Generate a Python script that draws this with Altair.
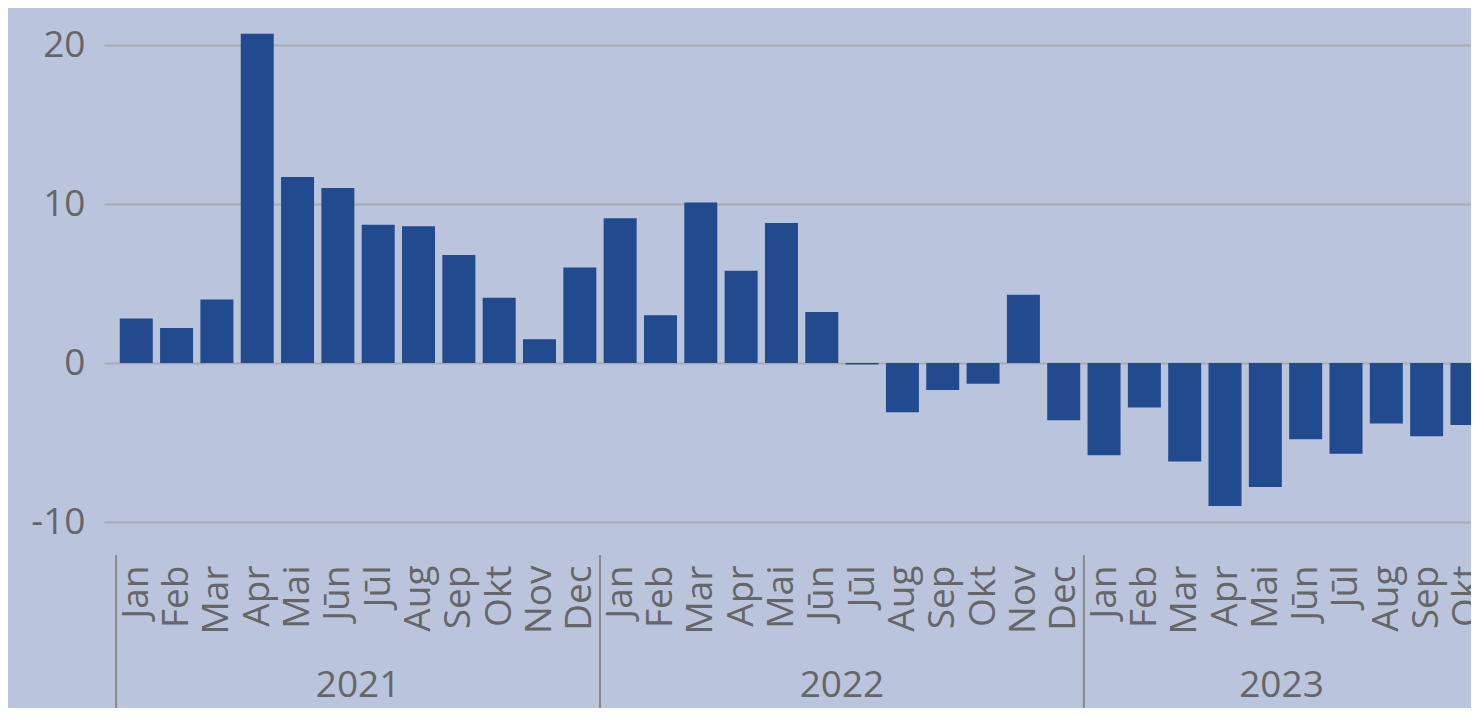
import altair as alt
import pandas as pd

years = ["2021", "2022", "2023"]
months = ["Jan", "Feb", "Mar", "Apr", "Mai", "Jūn", "Jūl", "Aug", "Sep", "Okt", "Nov", "Dec"]
values_2021 = [2.8, 2.2, 4.0, 20.7, 11.7, 11.0, 8.7, 8.6, 6.8, 4.1, 1.5, 6.0]
values_2022 = [9.1, 3.0, 10.1, 5.8, 8.8, 3.2, -0.1, -3.1, -1.7, -1.3, 4.3, -3.6]
values_2023 = [-5.8, -2.8, -6.2, -9.0, -7.8, -4.8, -5.7, -3.8, -4.6, -3.9]
y_ticks = [-10, 0, 10, 20]

BG = "#BAC5DD"
BAR = "#214A8F"
TXT = "#666666"
FONT = "Open Sans"
FS = 37

series = [values_2021, values_2022, values_2023]
rows = []
idx = 0
for y, vals in zip(years, series):
    for m, v in zip(months, vals):
        rows.append({"slot": idx + 0.5, "month": m, "year": y, "value": v})
        idx += 1
df = pd.DataFrame(rows)

x_lo, x_hi = -0.3, 33.6
visible_end = 33.8
yr_rows = []
for k, y in enumerate(years):
    start = k * 12
    end = min(start + 12, visible_end)
    yr_rows.append({"year": y, "start": start, "center": (start + end) / 2})
ydf = pd.DataFrame(yr_rows)

label_expr = "[" + ",".join("'%s'" % m for m in months) + "][floor(datum.value) % 12]"

xscale = alt.Scale(domain=[x_lo, x_hi], nice=False, zero=False, padding=0)
yscale = alt.Scale(domain=[-10, 20], nice=False, padding=0)

bars = alt.Chart(df).mark_bar(width=33, color=BAR).encode(
    x=alt.X("slot:Q", scale=xscale,
            axis=alt.Axis(values=[i + 0.5 for i in range(len(df))], labelExpr=label_expr,
                          title=None, grid=False, domain=False, ticks=False, tickSize=0,
                          labelAngle=270, labelAlign="right", labelBaseline="middle",
                          labelPadding=43, labelFont=FONT, labelFontSize=FS, labelColor=TXT,
                          labelOverlap=False, labelBound=False, labelFlush=False)),
    y=alt.Y("value:Q", scale=yscale,
            axis=alt.Axis(values=y_ticks, title=None, grid=True, gridColor="#A9ABB0",
                          gridWidth=2, domain=False, ticks=False, tickSize=0, labelPadding=19,
                          labelExpr="toString(datum.value)",
                          labelFont=FONT, labelFontSize=FS, labelColor=TXT)),
)

seps = alt.Chart(ydf).mark_rule(color="#8A8A8A", strokeWidth=2).encode(
    x=alt.X("start:Q", scale=xscale),
    y=alt.value(510),
    y2=alt.value(690),
)

ylabels = alt.Chart(ydf).mark_text(font=FONT, fontSize=FS, color=TXT, baseline="middle",
                                   align="center").encode(
    x=alt.X("center:Q", scale=xscale),
    y=alt.value(641),
    text="year:N",
)

chart = alt.layer(bars, seps, ylabels).properties(
    width=1367, height=477,
    background=BG,
    autosize=alt.AutoSizeParams(type="none"),
    padding={"left": 96, "top": 37, "right": 0, "bottom": 186},
).configure_view(stroke=None)

chart.save("out.html", embed_options={"renderer": "svg", "actions": False})
